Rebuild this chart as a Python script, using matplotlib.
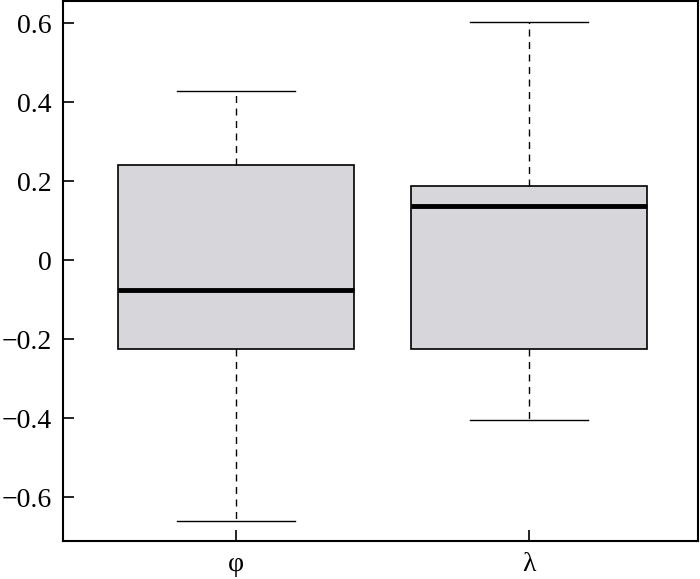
import matplotlib.pyplot as plt

plt.rcParams['font.family'] = 'serif'
plt.rcParams['font.serif'] = ['Liberation Serif', 'DejaVu Serif']

labels = ['φ', 'λ']
q1 = [-0.225, -0.225]
med = [-0.076, 0.137]
q3 = [0.240, 0.187]
whislo = [-0.661, -0.405]
whishi = [0.428, 0.603]

stats = []
for i in range(len(labels)):
    stats.append({'label': labels[i], 'q1': q1[i], 'med': med[i], 'q3': q3[i],
                  'whislo': whislo[i], 'whishi': whishi[i], 'fliers': []})

fig = plt.figure(figsize=(7, 5.79), dpi=100)
ax = fig.add_axes([63 / 700, 38 / 579, 635 / 700, 540 / 579])

ax.bxp(stats, positions=[1, 2], widths=0.805, patch_artist=True, showfliers=False,
       capwidths=0.405,
       boxprops=dict(facecolor='#d7d7db', edgecolor='black', linewidth=1.2),
       medianprops=dict(color='black', linewidth=3.5),
       whiskerprops=dict(color='black', linewidth=1.0, linestyle=(0, (5, 4))),
       capprops=dict(color='black', linewidth=1.0))

ax.set_xlim(0.41, 2.577)
ax.set_ylim(-0.711, 0.656)
ax.set_yticks([-0.6, -0.4, -0.2, 0, 0.2, 0.4, 0.6])
ax.set_yticklabels(['\u22120.6', '\u22120.4', '\u22120.2', '0', '0.2', '0.4', '0.6'])
ax.tick_params(direction='in', length=8, width=1.2, labelsize=20, pad=8)
for s in ax.spines.values():
    s.set_linewidth(1.5)

fig.savefig('out.png', dpi=100)
